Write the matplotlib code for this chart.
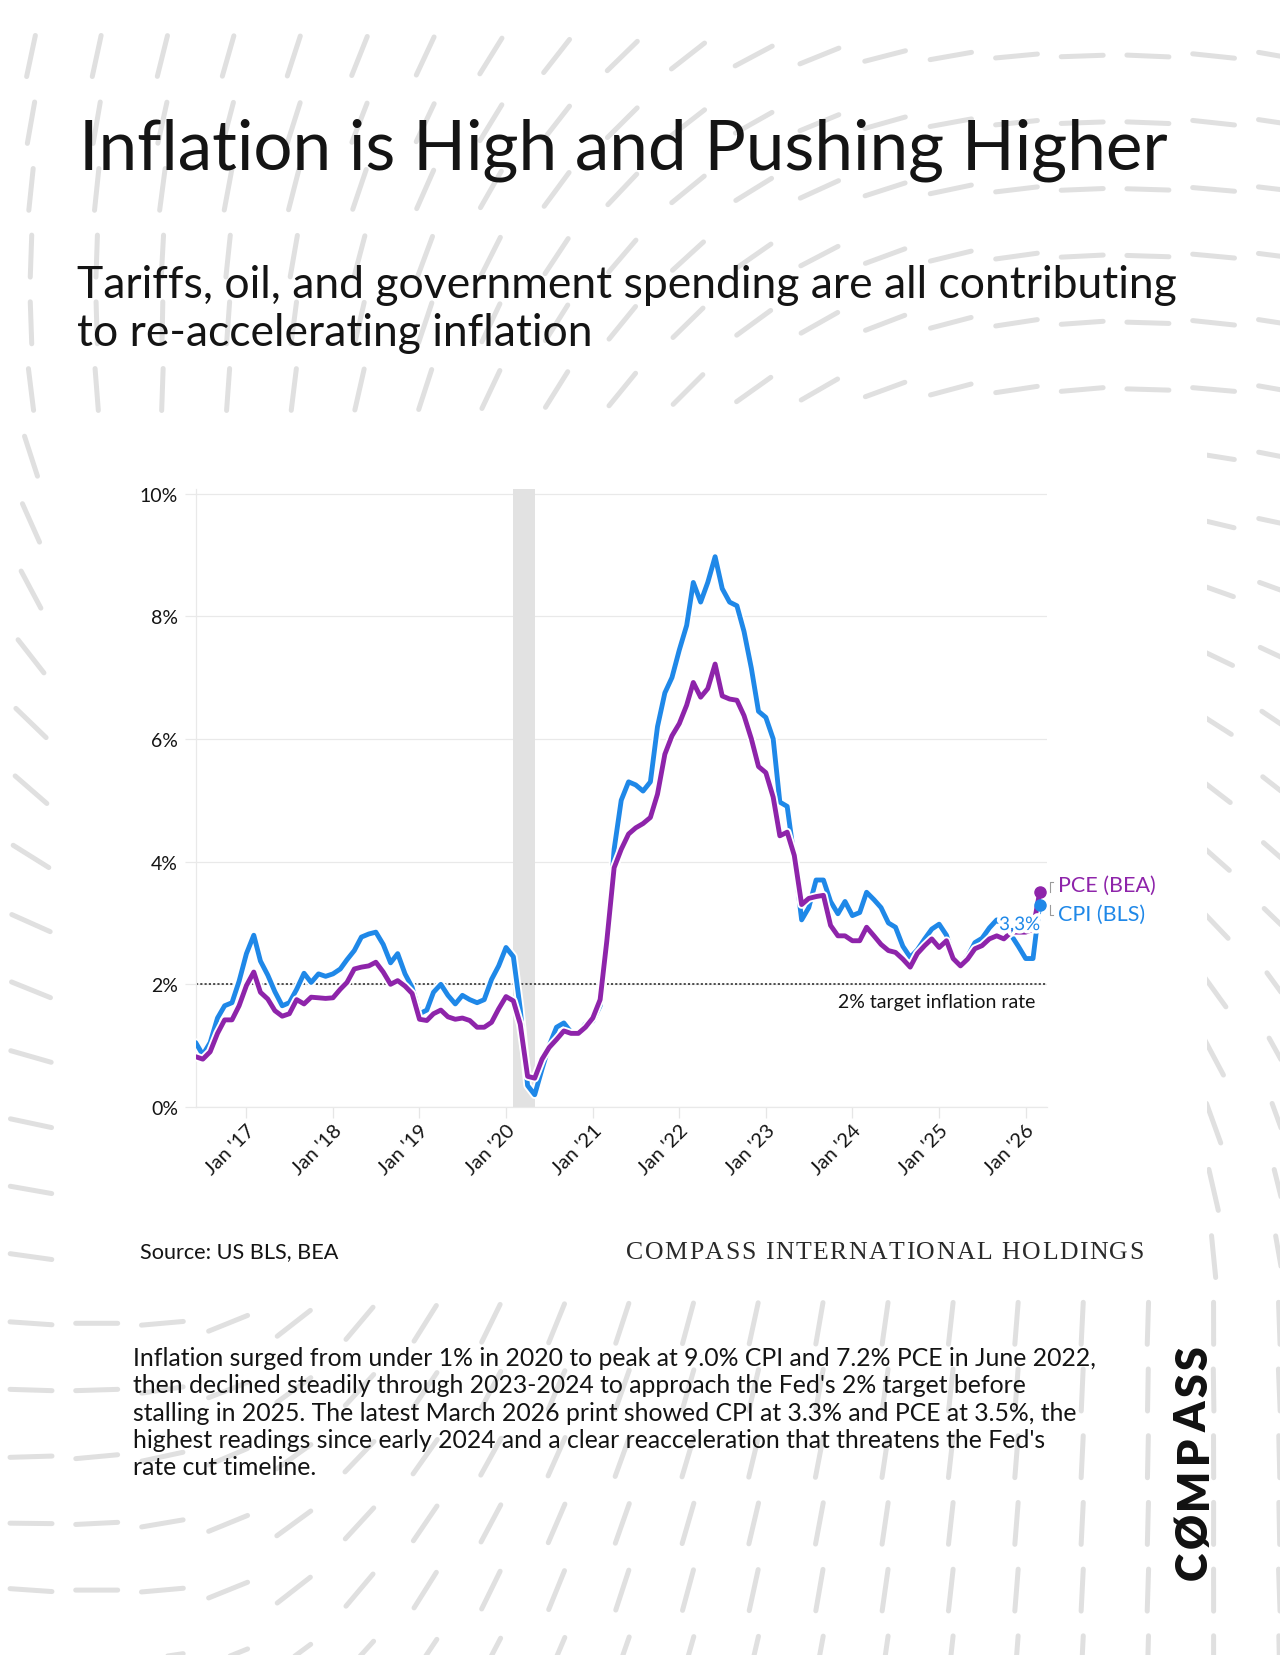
import matplotlib
matplotlib.use('Agg')
import matplotlib.pyplot as plt
import matplotlib.dates as mdates
import matplotlib.patheffects as pe
import matplotlib.transforms as mtransforms
from matplotlib.collections import LineCollection
from matplotlib.patches import Rectangle
from matplotlib.lines import Line2D
import numpy as np
import pandas as pd

plt.rcParams['font.family'] = ['Lato', 'DejaVu Sans']

W, H = 1280, 1656
BLUE = '#1f88e8'
PURPLE = '#8e24aa'
INK = '#141414'

# ---- data (year-over-year %, monthly, Jun 2016 .. Mar 2026) ----
months = pd.date_range('2016-06-01', '2026-03-01', freq='MS')
cpi = [1.05, 0.85, 1.05, 1.45, 1.65, 1.7, 2.05,
       2.5, 2.8, 2.38, 2.15, 1.88, 1.65, 1.7, 1.92, 2.18, 2.03, 2.17, 2.13,
       2.17, 2.25, 2.4, 2.55, 2.77, 2.82, 2.85, 2.65, 2.35, 2.5, 2.17, 1.95,
       1.52, 1.58, 1.87, 2.0, 1.82, 1.68, 1.82, 1.75, 1.7, 1.75, 2.08, 2.3,
       2.6, 2.45, 1.6, 0.35, 0.2, 0.62, 1.0, 1.3, 1.37, 1.22, 1.2, 1.35,
       1.4, 1.65, 2.6, 4.2, 5.0, 5.3, 5.25, 5.15, 5.3, 6.2, 6.75, 7.0,
       7.45, 7.85, 8.55, 8.23, 8.55, 8.97, 8.45, 8.23, 8.17, 7.75, 7.15, 6.45,
       6.35, 6.0, 4.97, 4.9, 4.05, 3.05, 3.25, 3.7, 3.7, 3.35, 3.15, 3.35,
       3.12, 3.17, 3.5, 3.38, 3.25, 3.0, 2.93, 2.62, 2.44, 2.56, 2.74, 2.9,
       2.98, 2.8, 2.45, 2.32, 2.45, 2.68, 2.75, 2.92, 3.05, 2.95, 2.8, 2.62,
       2.42, 2.42, 3.3]
pce = [0.82, 0.78, 0.9, 1.2, 1.42, 1.42, 1.65,
       1.98, 2.2, 1.87, 1.76, 1.57, 1.48, 1.52, 1.75, 1.68, 1.79, 1.78, 1.77,
       1.78, 1.92, 2.03, 2.25, 2.28, 2.3, 2.36, 2.2, 2.0, 2.06, 1.97, 1.85,
       1.43, 1.41, 1.52, 1.58, 1.47, 1.43, 1.45, 1.41, 1.3, 1.3, 1.38, 1.6,
       1.8, 1.73, 1.35, 0.5, 0.47, 0.78, 0.97, 1.1, 1.24, 1.2, 1.2, 1.3,
       1.45, 1.75, 2.7, 3.9, 4.2, 4.45, 4.55, 4.62, 4.72, 5.1, 5.75, 6.05,
       6.25, 6.55, 6.92, 6.68, 6.82, 7.22, 6.7, 6.65, 6.63, 6.38, 6.0, 5.55,
       5.45, 5.05, 4.42, 4.48, 4.1, 3.3, 3.4, 3.43, 3.45, 2.96, 2.79, 2.79,
       2.71, 2.71, 2.93, 2.79, 2.65, 2.55, 2.52, 2.41, 2.28, 2.5, 2.63, 2.74,
       2.6, 2.71, 2.42, 2.3, 2.41, 2.58, 2.63, 2.74, 2.79, 2.74, 2.85, 2.85,
       2.85, 2.9, 3.5]
tick_years = list(range(2017, 2027))
tick_labels = ["Jan '%02d" % (y % 100) for y in tick_years]
y_ticks = [0, 2, 4, 6, 8, 10]
y_labels = ['0%', '2%', '4%', '6%', '8%', '10%']
recession = ('2020-02-01', '2020-05-01')
target = 2.0

title = 'Inflation is High and Pushing Higher'
subtitle = ['Tariffs, oil, and government spending are all contributing',
            'to re-accelerating inflation']
body = ["Inflation surged from under 1% in 2020 to peak at 9.0% CPI and 7.2% PCE in June 2022,",
        "then declined steadily through 2023-2024 to approach the Fed's 2% target before",
        "stalling in 2025. The latest March 2026 print showed CPI at 3.3% and PCE at 3.5%, the",
        "highest readings since early 2024 and a clear reacceleration that threatens the Fed's",
        "rate cut timeline."]

# background dash field: sampled stroke angles (px x, px y, degrees)
fx, fy, fd = [], [], []
top_x = [31, 160, 291, 425, 555, 685, 811, 945, 1079, 1213, 1279]
for yy, dd in [(57, [78, 76, 72, 65, 52, 38, 22, 10, 2, -6, -10]),
               (390, [97, 88, 83, 72, 58, 45, 30, 15, 5, -5, -10])]:
    fx += top_x; fy += [yy] * len(top_x); fd += dd
side_y = [457, 524, 590, 657, 724, 790, 857, 924, 990, 1057, 1124, 1190, 1257]
left_d = [108, 114, 118, 128, 136, 139, 148, 156, 158, 164, 168, 170, 172]
right_d = [169, 168, 160, 155, 146, 142, 139, 136, 126, 119, 110, 104, 100]
for yy, dd in zip([123, 190, 257, 323], [80, 84, 88, 92]):
    fx.append(31); fy.append(yy); fd.append(dd)
fx += [31] * len(side_y); fy += side_y; fd += left_d
fx += [1279] * len(side_y); fy += side_y; fd += right_d
bot_x = [31, 97, 163, 230, 300, 365, 433, 500, 570, 637, 702, 776, 849, 922, 988, 1061, 1127, 1200, 1270]
bot_d = [176, 180, 5, 22, 38, 50, 58, 64, 68, 72, 75, 78, 81, 83, 85, 87, 88, 90, 92]
for yy in (1324, 1597):
    fx += bot_x; fy += [yy] * len(bot_x); fd += bot_d

# ---- figure ----
fig = plt.figure(figsize=(W / 100, H / 100), dpi=100, facecolor='white')
r = fig.canvas.get_renderer()

bg = fig.add_axes([0, 0, 1, 1])
bg.set_xlim(0, W)
bg.set_ylim(H, 0)
bg.axis('off')

gx, gy = np.meshgrid(31 + 65.7 * np.arange(20), 57 + 66.7 * np.arange(25))
sx, sy, sa = np.array(fx, float), np.array(fy, float), np.radians(np.array(fd, float)) * 2
d2 = (gx[..., None] - sx) ** 2 + (gy[..., None] - sy) ** 2 + 100
wgt = d2 ** -1.5
ang = 0.5 * np.arctan2((wgt * np.sin(sa)).sum(-1), (wgt * np.cos(sa)).sum(-1))
dx, dy = 21 * np.cos(ang), -21 * np.sin(ang)
segs = np.stack([np.stack([gx - dx, gy - dy], -1), np.stack([gx + dx, gy + dy], -1)], -2).reshape(-1, 2, 2)
bg.add_collection(LineCollection(segs, colors='#e0e0e0', linewidths=3.6, capstyle='round', zorder=1))
bg.add_patch(Rectangle((62, 418), 1207 - 62, 1298 - 418, facecolor='white', edgecolor='none', zorder=2))


def fit(t, target_w):
    w = t.get_window_extent(renderer=r).width
    t.set_fontsize(t.get_fontsize() * target_w / w)


def tracked(x0, y0, s, total, size, rot=False, **kw):
    adv = []
    for ch in s:
        if ch == ' ':
            adv.append(size * 100 / 72 * 0.25)
        else:
            t = bg.text(0, 0, ch, fontsize=size, **kw)
            adv.append(t.get_window_extent(renderer=r).width)
            t.remove()
    gap = (total - sum(adv)) / (len(s) - 1)
    pos = x0 if not rot else y0
    for ch, a in zip(s, adv):
        if ch != ' ':
            if rot:
                bg.text(x0, pos, ch, fontsize=size, rotation=90, rotation_mode='anchor',
                        ha='left', va='baseline', zorder=3, **kw)
            else:
                bg.text(pos, y0, ch, fontsize=size, ha='left', va='baseline', zorder=3, **kw)
        pos = pos - (a + gap) if rot else pos + a + gap


t = bg.text(79, 169, title, fontsize=48, color=INK, va='baseline', zorder=3)
fit(t, 1088)
t1 = bg.text(77, 298, subtitle[0], fontsize=30, color=INK, va='baseline', zorder=3)
fit(t1, 1098)
bg.text(77, 346, subtitle[1], fontsize=t1.get_fontsize(), color=INK, va='baseline', zorder=3)

t = bg.text(140, 1258, 'Source: US BLS, BEA', fontsize=15, color=INK, va='baseline', zorder=3)
fit(t, 198)
tracked(626, 1259, 'COMPASS INTERNATIONAL HOLDINGS', 518, 18.5, color='#2a2a2a',
        family=['Liberation Serif', 'DejaVu Serif'])

tb = bg.text(133, 1366, body[0], fontsize=15, color=INK, va='baseline', zorder=3)
fit(tb, 965)
for i, line in enumerate(body[1:], 1):
    bg.text(133, 1366 + 27.3 * i, line, fontsize=tb.get_fontsize(), color=INK, va='baseline', zorder=3)

tracked(1207, 1580, 'CØMPASS', 234, 31, rot=True, color='#111111', fontweight='heavy')

# ---- chart ----
ax = fig.add_axes([195.7 / W, (H - 1108) / H, (1047 - 195.7) / W, (1108 - 489.6) / H])
ax.set_facecolor('white')
ax.set_xlim(pd.Timestamp('2016-06-01'), pd.Timestamp('2026-04-01'))
ax.set_ylim(0, 10.08)

ax.axvspan(pd.Timestamp(recession[0]), pd.Timestamp(recession[1]), color='#e2e2e2', lw=0, zorder=1)
ax.axhline(target, color='#222222', lw=1.1, ls=(0, (1.4, 1.4)), zorder=2)

halo = [pe.Stroke(linewidth=6.2, foreground='white'), pe.Normal()]
ax.plot(months, cpi, color=BLUE, lw=3.5, zorder=3, path_effects=halo,
        solid_joinstyle='round', solid_capstyle='round')
ax.plot(months, pce, color=PURPLE, lw=3.5, zorder=4, path_effects=halo,
        solid_joinstyle='round', solid_capstyle='round')
ax.plot(months[-1], pce[-1], 'o', ms=8, color=PURPLE, zorder=6, clip_on=False)
ax.plot(months[-1], cpi[-1], 'o', ms=8, color=BLUE, zorder=7, clip_on=False)

ax.set_yticks(y_ticks)
ax.set_yticklabels(y_labels)
ax.set_xticks(pd.to_datetime(['%d-01-01' % y for y in tick_years]))
ax.set_xticklabels(tick_labels, rotation=45, ha='right', va='top', rotation_mode='anchor')
ax.yaxis.grid(True, color='#e9e9e9', lw=0.9)
ax.set_axisbelow(True)
ax.tick_params(axis='y', length=7.7, width=0.9, color='#e9e9e9', pad=5, labelsize=14, labelcolor=INK)
ax.tick_params(axis='x', length=8, width=0.9, color='#e6e6e6', pad=2, labelsize=14.5, labelcolor=INK)
for s in ['top', 'right']:
    ax.spines[s].set_visible(False)
for s in ['left', 'bottom']:
    ax.spines[s].set_color('#e9e9e9')
    ax.spines[s].set_linewidth(0.9)

ax.annotate('2% target inflation rate', xy=(1, target), xycoords=('axes fraction', 'data'),
            xytext=(-12, -9), textcoords='offset pixels', ha='right', va='top',
            fontsize=14, color=INK)
ax.annotate('PCE (BEA)', xy=(months[-1], pce[-1]), xytext=(18, 7), textcoords='offset pixels',
            ha='left', va='center', fontsize=15.5, color=PURPLE, annotation_clip=False)
ax.annotate('CPI (BLS)', xy=(months[-1], cpi[-1]), xytext=(18, -9.5), textcoords='offset pixels',
            ha='left', va='center', fontsize=15.5, color=BLUE, annotation_clip=False)
ax.annotate('3,3%', xy=(months[-1], cpi[-1]), xytext=(-20, -20), textcoords='offset pixels',
            ha='center', va='center', fontsize=13.5, color=BLUE, zorder=8, annotation_clip=False,
            path_effects=[pe.withStroke(linewidth=5, foreground='white')])

# leader lines from the end dots to their labels
xd = mdates.date2num(months[-1])
for val, sign in [(pce[-1], 1), (cpi[-1], -1)]:
    px, py = ax.transData.transform((xd, val))
    fig.add_artist(Line2D([px + 10, px + 10, px + 13], [py, py + 10 * sign, py + 10 * sign],
                          transform=mtransforms.IdentityTransform(), color='#9a9a9a', lw=0.8))

fig.savefig('out.png', dpi=100, facecolor='white')
